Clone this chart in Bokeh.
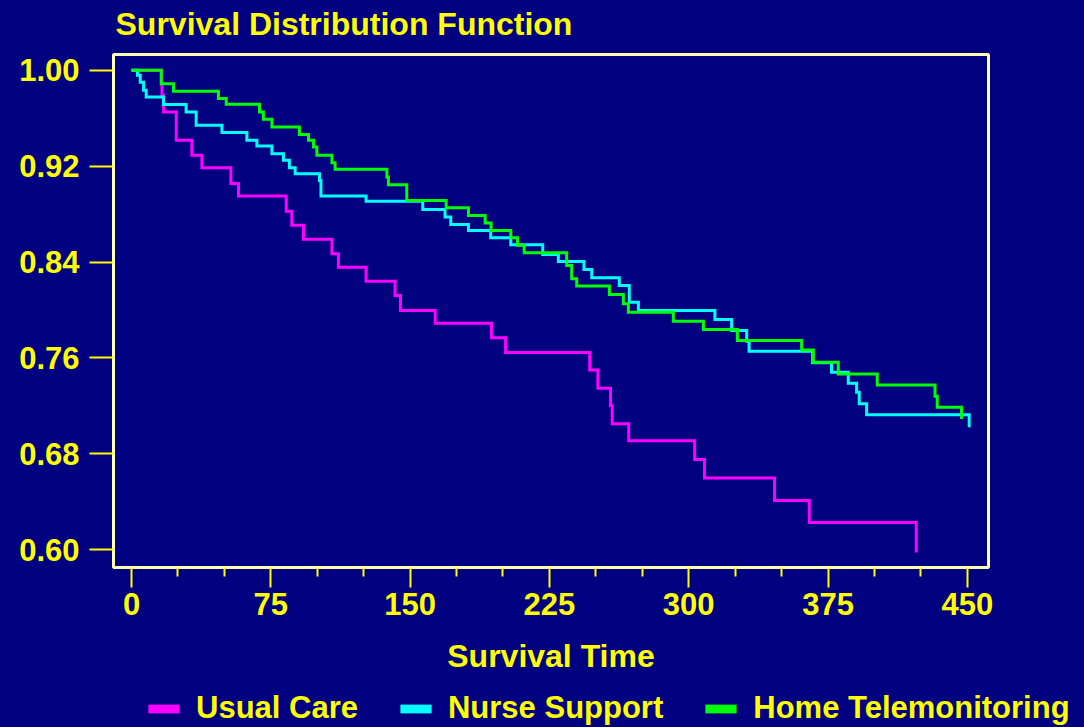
from bokeh.plotting import figure
from bokeh.models import (Range1d, FixedTicker, NumeralTickFormatter, Legend, LegendItem,
                          ColumnDataSource, Label)
from bokeh.embed import file_html
from bokeh.resources import INLINE

# ---- data ----
groups = ["Usual Care", "Nurse Support", "Home Telemonitoring"]
colors = ["#FF00FF", "#00FFFF", "#00FF00"]

usual_t = [0, 16.4, 17.3, 24.1, 32.5, 37.9, 53.5, 57.6, 83.3, 86.3, 92.6, 107.9, 111.4,
           126.3, 141.9, 144.8, 163.5, 193.8, 201.4, 246.7, 251.1, 257.9, 258.8, 267.7,
           303.2, 308.5, 346.2, 364.9, 422.5]
usual_s = [1.0, 0.979, 0.9652, 0.9415, 0.929, 0.9187, 0.9054, 0.895, 0.8823, 0.8706, 0.8589,
           0.8469, 0.8357, 0.824, 0.8121, 0.7996, 0.789, 0.7768, 0.7645, 0.75, 0.7347, 0.7203,
           0.705, 0.691, 0.6752, 0.6599, 0.641, 0.6228, 0.5978]

nurse_t = [0, 3.2, 4.7, 6.5, 7.9, 17.2, 29.4, 34.8, 48.7, 62.1, 67.5, 75.6, 81.8, 85.0, 88.1,
           101.2, 102.0, 126.3, 156.8, 168.8, 171.9, 181.4, 193.4, 204.2, 221.4, 229.8, 243.6,
           247.8, 262.6, 268.0, 272.9, 314.1, 323.1, 331.2, 332.5, 366.7, 376.9, 385.9, 390.4,
           391.8, 395.8, 451.0]
nurse_s = [1.0, 0.9958, 0.990, 0.9833, 0.9777, 0.9713, 0.9652, 0.9541, 0.948, 0.9415, 0.9368,
           0.9304, 0.9248, 0.9187, 0.9137, 0.908, 0.895, 0.8906, 0.8839, 0.8775, 0.8714, 0.8664,
           0.8603, 0.8545, 0.8463, 0.8405, 0.8338, 0.8269, 0.8205, 0.8065, 0.7996, 0.7921,
           0.7829, 0.774, 0.7656, 0.7559, 0.748, 0.7389, 0.7314, 0.7217, 0.7127, 0.7021]

home_t = [0, 16.0, 22.6, 46.8, 51.0, 68.9, 71.0, 75.6, 90.4, 95.3, 98.0, 99.8, 107.9, 109.6,
          137.5, 138.3, 148.2, 169.4, 181.4, 190.4, 193.6, 204.2, 207.8, 211.4, 234.3, 237.0,
          239.7, 257.3, 264.8, 267.5, 291.7, 307.9, 326.2, 360.8, 367.1, 380.5, 401.5, 432.6,
          433.8, 446.9]
home_s = [1.0, 0.9886, 0.9825, 0.9763, 0.9716, 0.9652, 0.9591, 0.9527, 0.9463, 0.9415, 0.936,
          0.929, 0.9229, 0.9173, 0.9109, 0.9045, 0.8914, 0.8853, 0.8789, 0.8725, 0.8664, 0.8603,
          0.8539, 0.8478, 0.8372, 0.826, 0.8199, 0.8129, 0.8052, 0.7982, 0.7907, 0.7837, 0.7745,
          0.7667, 0.7564, 0.7467, 0.7375, 0.728, 0.7188, 0.7091]

x_ticks = [0, 75, 150, 225, 300, 375, 450]
x_minor = [25, 50, 100, 125, 175, 200, 250, 275, 325, 350, 400, 425]
y_ticks = [0.60, 0.68, 0.76, 0.84, 0.92, 1.00]

title_text = "Survival Distribution Function"
x_label = "Survival Time"

# ---- styling ----
NAVY = "#000080"
YELLOW = "#FFFF00"
FRAME = "#FFFFB0"
FONT = "Liberation Sans"


def strip(height):
    f = figure(width=1084, height=height, output_backend="svg", toolbar_location=None,
               x_range=Range1d(0, 1), y_range=Range1d(0, 1), title=None,
               x_axis_location=None, y_axis_location=None, min_border=0,
               background_fill_color=NAVY, border_fill_color=NAVY)
    f.grid.visible = False
    f.outline_line_color = None
    return f


# ---- title strip ----
tf = strip(40)
tf.add_layout(Label(x=115, y=17, x_units="screen", y_units="screen", text=title_text,
                    text_color=YELLOW, text_font=FONT, text_font_style="bold",
                    text_font_size="32px", text_baseline="alphabetic", text_align="left"))

# ---- main chart ----
p = figure(width=1084, height=650, output_backend="svg", toolbar_location=None,
           x_range=Range1d(-9.7, 461.4), y_range=Range1d(0.5852, 1.0131), title=None,
           min_border_left=113, min_border_right=96, min_border_top=14, min_border_bottom=123,
           background_fill_color=NAVY, border_fill_color=NAVY)
p.grid.visible = False
p.outline_line_color = FRAME
p.outline_line_width = 3

for ax in (p.xaxis[0], p.yaxis[0]):
    ax.axis_line_color = None
    ax.major_tick_line_color = YELLOW
    ax.minor_tick_line_color = YELLOW
    ax.major_tick_line_width = 2
    ax.minor_tick_line_width = 2
    ax.major_tick_in = 0
    ax.minor_tick_in = 0
    ax.major_label_text_color = YELLOW
    ax.major_label_text_font = FONT
    ax.major_label_text_font_style = "bold"
    ax.major_label_text_font_size = "31px"

xa = p.xaxis[0]
xa.ticker = FixedTicker(ticks=x_ticks, minor_ticks=x_minor)
xa.major_tick_out = 20
xa.minor_tick_out = 9
xa.major_label_standoff = 5
xa.axis_label = x_label
xa.axis_label_text_color = YELLOW
xa.axis_label_text_font = FONT
xa.axis_label_text_font_style = "bold"
xa.axis_label_text_font_size = "32px"
xa.axis_label_standoff = 20

ya = p.yaxis[0]
ya.ticker = FixedTicker(ticks=y_ticks)
ya.formatter = NumeralTickFormatter(format="0.00")
ya.major_tick_out = 24
ya.minor_tick_out = 0
ya.major_label_standoff = 10

series = [(usual_t, usual_s), (nurse_t, nurse_s), (home_t, home_s)]
for (t, s), c in zip(series, colors):
    p.step(t, s, mode="after", line_color=c, line_width=3, line_join="miter")

# ---- legend strip ----
lg = strip(37)
nan = float("nan")
items = []
for name, c in zip(groups, colors):
    # legend-only swatch renderer: no drawable data
    src = ColumnDataSource(dict(left=[nan], right=[nan], top=[nan], bottom=[nan]))
    r = lg.quad(left="left", right="right", top="top", bottom="bottom", source=src,
                fill_color=c, line_color=None)
    items.append(LegendItem(label=name, renderers=[r], index=0))
leg = Legend(items=items, location=(144, 1), orientation="horizontal",
             glyph_width=39, glyph_height=11, label_standoff=13, spacing=38,
             padding=0, margin=0, border_line_color=None, background_fill_alpha=0,
             label_text_color=YELLOW, label_text_font=FONT,
             label_text_font_style="bold", label_text_font_size="31px")
lg.add_layout(leg)

html = file_html([tf, p, lg], INLINE)
html = html.replace("<head>", "<head><style>html, body { background: #000080; }</style>", 1)
open("out.html", "w").write(html)
